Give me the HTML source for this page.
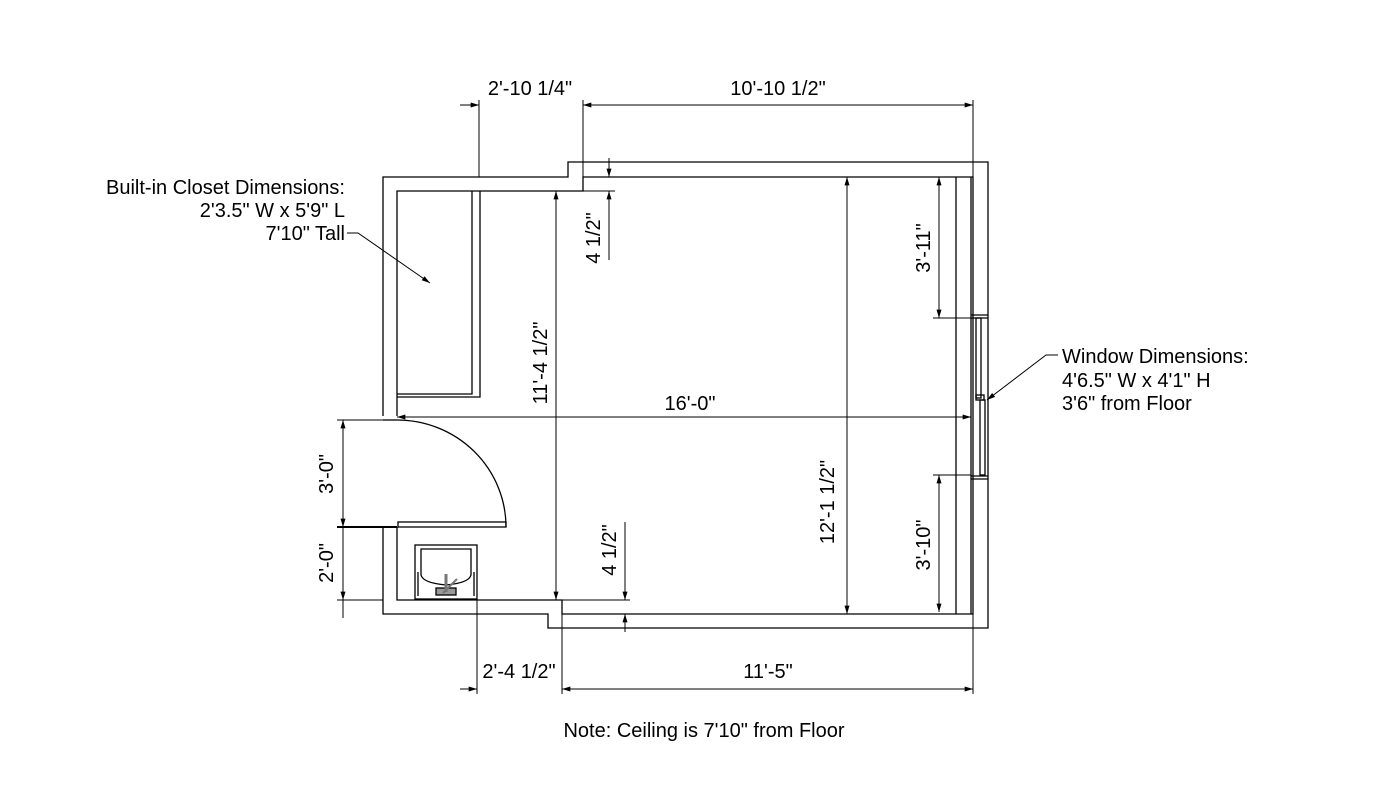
<!DOCTYPE html>
<html><head><meta charset="utf-8"><style>
html,body{margin:0;padding:0;background:#fff}
svg{display:block}
text{font-family:"Liberation Sans",Arial,sans-serif;font-size:20px;fill:#000}
</style></head><body>
<svg width="1382" height="805" viewBox="0 0 1382 805" xmlns="http://www.w3.org/2000/svg">
<defs>
<marker id="a" viewBox="0 0 10 6" refX="10" refY="3" markerWidth="9" markerHeight="5" markerUnits="userSpaceOnUse" orient="auto-start-reverse"><path d="M0,0L10,3L0,6z" fill="#000"/></marker>
</defs>
<g stroke="#000" stroke-width="1.3" fill="none">
<polyline points="383,416 383,177 568,177 568,162 988,162 988,628 548,628 548,614 383,614 383,527"/>
<polyline points="397,416 397,191 583,191 583,177 973,177 973,614 562,614 562,600 397,600 397,527"/>
<line x1="956" y1="177" x2="956" y2="614"/>
<line x1="971" y1="177" x2="971" y2="614"/>
<polyline points="397,394 472,394 472,191"/>
<polyline points="397,397 480,397 480,191"/>
<line x1="383" y1="420" x2="397" y2="420"/>
<path d="M397,420 A109,107 0 0 1 506,527"/>
<rect x="398" y="522" width="108" height="5"/>
<line x1="337" y1="527" x2="397" y2="527" stroke-width="2"/>
<rect x="415" y="545" width="62" height="54"/>
<path d="M421,549 h50 v26 q-2,8 -25,10 q-23,-2 -25,-10 z"/>
<line x1="418" y1="572" x2="418" y2="596"/><line x1="474" y1="572" x2="474" y2="596"/>
<rect x="436" y="588" width="20" height="7" fill="#999"/>
<line x1="446" y1="574" x2="446" y2="592" stroke="#777" stroke-width="3"/>
<line x1="443" y1="593" x2="457" y2="579" stroke="#777" stroke-width="2"/>
<line x1="971" y1="315" x2="988" y2="315"/><line x1="971" y1="318" x2="988" y2="318"/>
<line x1="971" y1="476" x2="988" y2="476"/><line x1="971" y1="479" x2="988" y2="479"/>
<rect x="976" y="318" width="5" height="80"/>
<rect x="976" y="395" width="8" height="5"/>
<rect x="980" y="400" width="5" height="75"/>
</g>
<g stroke="#000" stroke-width="1">
<line x1="479" y1="100" x2="479" y2="177"/>
<line x1="583" y1="100" x2="583" y2="191"/>
<line x1="973" y1="100" x2="973" y2="177"/>
<line x1="460" y1="105" x2="479" y2="105" marker-end="url(#a)"/>
<line x1="583" y1="105" x2="973" y2="105" marker-start="url(#a)" marker-end="url(#a)"/>
<line x1="477" y1="600" x2="477" y2="694"/>
<line x1="562" y1="614" x2="562" y2="694"/>
<line x1="973" y1="614" x2="973" y2="694"/>
<line x1="460" y1="689" x2="477" y2="689" marker-end="url(#a)"/>
<line x1="562" y1="689" x2="973" y2="689" marker-start="url(#a)" marker-end="url(#a)"/>
<line x1="556" y1="191" x2="556" y2="600" marker-start="url(#a)" marker-end="url(#a)"/>
<line x1="583" y1="191" x2="615" y2="191"/>
<line x1="609" y1="158" x2="609" y2="177" marker-end="url(#a)"/>
<line x1="609" y1="191" x2="609" y2="260" marker-start="url(#a)"/>
<line x1="562" y1="600" x2="630" y2="600"/>
<line x1="625" y1="522" x2="625" y2="600" marker-end="url(#a)"/>
<line x1="625" y1="614" x2="625" y2="632" marker-start="url(#a)"/>
<line x1="397" y1="417" x2="971" y2="417" marker-start="url(#a)" marker-end="url(#a)"/>
<line x1="847" y1="177" x2="847" y2="614" marker-start="url(#a)" marker-end="url(#a)"/>
<line x1="933" y1="318" x2="971" y2="318"/>
<line x1="933" y1="475" x2="971" y2="475"/>
<line x1="939" y1="177" x2="939" y2="318" marker-start="url(#a)" marker-end="url(#a)"/>
<line x1="939" y1="475" x2="939" y2="612" marker-start="url(#a)" marker-end="url(#a)"/>
<line x1="337" y1="420" x2="383" y2="420"/>
<line x1="337" y1="600" x2="383" y2="600"/>
<line x1="343" y1="420" x2="343" y2="527" marker-start="url(#a)" marker-end="url(#a)"/>
<line x1="343" y1="527" x2="343" y2="600" marker-end="url(#a)"/>
<line x1="343" y1="600" x2="343" y2="618"/>
<polyline points="347,233 358,233 430,283" fill="none" marker-end="url(#a)"/>
<polyline points="1058,355 1046,355 987,400" fill="none" marker-end="url(#a)"/>
</g>
<g>
<text x="530" y="95" text-anchor="middle">2'-10 1/4"</text>
<text x="778" y="95" text-anchor="middle">10'-10 1/2"</text>
<text x="519" y="678" text-anchor="middle">2'-4 1/2"</text>
<text x="768" y="678" text-anchor="middle">11'-5"</text>
<text x="690" y="410" text-anchor="middle">16'-0"</text>
<text x="704" y="737" text-anchor="middle">Note: Ceiling is 7'10" from Floor</text>
<text x="345" y="194" text-anchor="end">Built-in Closet Dimensions:</text>
<text x="345" y="217" text-anchor="end">2'3.5" W x 5'9" L</text>
<text x="345" y="240" text-anchor="end">7'10" Tall</text>
<text x="1062" y="363">Window Dimensions:</text>
<text x="1062" y="387">4'6.5" W x 4'1" H</text>
<text x="1062" y="410">3'6" from Floor</text>
<text transform="translate(547,363) rotate(-90)" text-anchor="middle">11'-4 1/2"</text>
<text transform="translate(600,238) rotate(-90)" text-anchor="middle">4 1/2"</text>
<text transform="translate(616,550) rotate(-90)" text-anchor="middle">4 1/2"</text>
<text transform="translate(834,502) rotate(-90)" text-anchor="middle">12'-1 1/2"</text>
<text transform="translate(930,248) rotate(-90)" text-anchor="middle">3'-11"</text>
<text transform="translate(930,545) rotate(-90)" text-anchor="middle">3'-10"</text>
<text transform="translate(333,474) rotate(-90)" text-anchor="middle">3'-0"</text>
<text transform="translate(333,563) rotate(-90)" text-anchor="middle">2'-0"</text>
</g>
</svg>
</body></html>
